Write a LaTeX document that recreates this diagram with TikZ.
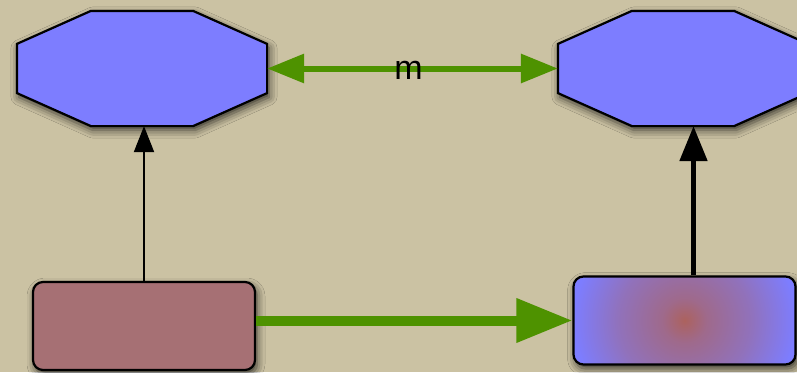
\documentclass[tikz,border=0pt]{standalone}
\usepackage{fontspec}
\setmainfont{Liberation Sans}
\usepackage{xcolor}
\definecolor{paperBg}{HTML}{CBC2A3}
\definecolor{octBlue}{HTML}{7D7DFF}
\definecolor{roseBox}{HTML}{A67074}
\definecolor{linkGreen}{HTML}{4E9200}
\definecolor{emberRed}{HTML}{AC625E}
\usetikzlibrary{arrows.meta,shadows.blur}
\pgfdeclareradialshading{ember}{\pgfpoint{0bp}{0bp}}{%
  color(0bp)=(emberRed); color(5bp)=(emberRed!72!octBlue);
  color(15bp)=(emberRed!42!octBlue); color(25bp)=(octBlue); color(50bp)=(octBlue)}
\tikzset{
  octnode/.style={
    rectangle,
    minimum width=248pt,
    minimum height=113pt,
    inner sep=0pt,
    outer sep=1.1pt
  },
  octline/.style={
    draw=black,
    line width=2.2pt,
    fill=octBlue,
    blur shadow={shadow xshift=2pt,shadow yshift=-4pt,shadow blur radius=8pt,shadow opacity=75}
  },
  boxnode/.style={
    rectangle,
    rounded corners=10pt,
    minimum width=222pt,
    minimum height=88pt,
    inner sep=0pt,
    draw=black,
    line width=2.2pt,
    blur shadow={shadow xshift=2pt,shadow yshift=-4pt,shadow blur radius=8pt,shadow opacity=75}
  },
  emberfill/.style={
    fill=octBlue,
    path picture={\shade[shading=ember] (path picture bounding box.center) circle (110pt);}
  },
  greenlink/.style={
    draw=linkGreen,
    line width=6pt,
    {Triangle[length=37pt,width=28pt]}-{Triangle[length=37pt,width=28pt]}
  },
  greenpush/.style={
    draw=linkGreen,
    line width=10pt,
    -{Triangle[length=56pt,width=42pt]}
  },
  thinup/.style={
    draw=black,
    line width=2pt,
    -{Triangle[length=26pt,width=20pt]}
  },
  thickup/.style={
    draw=black,
    line width=5pt,
    -{Triangle[length=35pt,width=27pt]}
  }
}
% chamfered outline over an octnode
\newcommand\octoutline[1]{%
  \path[octline] ([xshift=74pt]#1.north west) -- ([xshift=-74pt]#1.north east)
    -- ([yshift=-33pt]#1.north east) -- ([yshift=33pt]#1.south east)
    -- ([xshift=-74pt]#1.south east) -- ([xshift=74pt]#1.south west)
    -- ([yshift=33pt]#1.south west) -- ([yshift=-33pt]#1.north west) -- cycle;}

\begin{document}
\begin{tikzpicture}[x=1pt,y=-1pt]
  \useasboundingbox (0,0) rectangle (797,372);
  \clip (0,0) rectangle (797,372);
  \fill[paperBg] (0,0) rectangle (797,372);
  \node[octnode] (leftoct) at (142,68.5) {};
  \node[octnode] (rightoct) at (683,68.5) {};
  \octoutline{leftoct}
  \octoutline{rightoct}
  \node[boxnode,fill=roseBox] (leftbox) at (144,326) {};
  \node[boxnode,emberfill] (rightbox) at (684.5,320.5) {};
  \draw[greenlink] (leftoct.east) -- node[xshift=-4pt,yshift=-2pt,font=\fontsize{34}{40}\selectfont] (mlabel) {m} (rightoct.west);
  \draw[greenpush] (leftbox.east |- rightbox.west) -- (rightbox.west);
  \draw[thinup] (leftbox.north) -- (leftbox.north |- leftoct.south);
  \draw[thickup] ([xshift=9pt]rightbox.north) -- ([xshift=9pt]rightbox.north |- rightoct.south);
\end{tikzpicture}
\end{document}
